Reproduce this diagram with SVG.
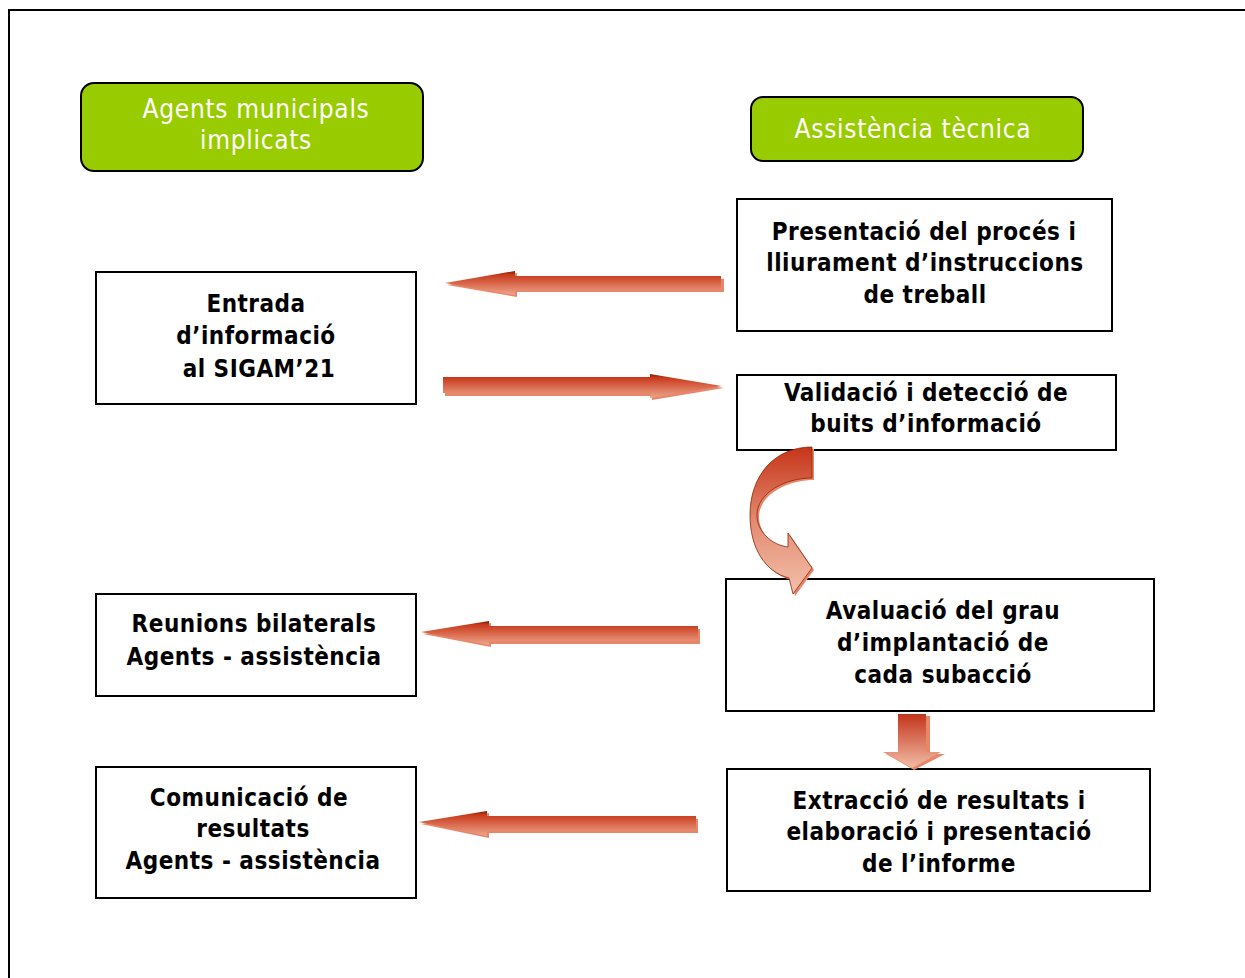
<svg xmlns="http://www.w3.org/2000/svg" width="1245" height="978" viewBox="0 0 1245 978">
<defs>
<linearGradient id="gh" x1="0" y1="0" x2="0" y2="1">
<stop offset="0" stop-color="#7a1c05"/>
<stop offset="0.15" stop-color="#c8391b"/>
<stop offset="1" stop-color="#eea58c"/>
</linearGradient>
<linearGradient id="gv" x1="0" y1="0" x2="0" y2="1">
<stop offset="0" stop-color="#c3341a"/>
<stop offset="1" stop-color="#f2bca6"/>
</linearGradient>
<linearGradient id="gc" x1="0" y1="0" x2="0" y2="1">
<stop offset="0" stop-color="#c63519"/>
<stop offset="0.5" stop-color="#e38a70"/>
<stop offset="1" stop-color="#f3c0ab"/>
</linearGradient>
<style>
.box{fill:#fff;stroke:#000;stroke-width:2}
.hdr{fill:#99cc00;stroke:#000;stroke-width:2}
.t{font-family:"DejaVu Sans Condensed","DejaVu Sans",sans-serif;font-weight:bold;font-size:24px;letter-spacing:0.5px;fill:#000;text-anchor:middle}
.w{font-family:"DejaVu Sans Condensed","DejaVu Sans",sans-serif;font-size:26px;letter-spacing:0.7px;fill:#fff;text-anchor:middle}
.sh{fill:#e8866a}
</style>
</defs>
<rect width="1245" height="978" fill="#fff"/>
<path d="M9 978 V10 H1245" fill="none" stroke="#000" stroke-width="2"/>

<g id="hdr-agents">
<rect class="hdr" x="81" y="83" width="342" height="88" rx="13"/>
<text class="w" x="256" y="118">Agents municipals</text>
<text class="w" x="256" y="149">implicats</text>
</g>
<g id="hdr-assist">
<rect class="hdr" x="751" y="97" width="332" height="64" rx="12"/>
<text class="w" x="913" y="138">Assistència tècnica</text>
</g>

<g id="n-entrada">
<rect class="box" x="96" y="272" width="320" height="132"/>
<text class="t" x="256" y="312">Entrada</text>
<text class="t" x="256" y="344">d’informació</text>
<text class="t" x="259" y="377">al SIGAM’21</text>
</g>
<g id="n-presentacio">
<rect class="box" x="737" y="199" width="375" height="132"/>
<text class="t" x="924" y="240">Presentació del procés i</text>
<text class="t" x="925" y="271">lliurament d’instruccions</text>
<text class="t" x="925" y="303">de treball</text>
</g>
<g id="n-validacio">
<rect class="box" x="737" y="375" width="379" height="75"/>
<text class="t" x="926" y="401">Validació i detecció de</text>
<text class="t" x="926" y="432">buits d’informació</text>
</g>
<g id="n-reunions">
<rect class="box" x="96" y="594" width="320" height="102"/>
<text class="t" x="254" y="632">Reunions bilaterals</text>
<text class="t" x="254" y="665">Agents - assistència</text>
</g>
<g id="n-avaluacio">
<rect class="box" x="726" y="579" width="428" height="132"/>
<text class="t" x="943" y="619">Avaluació del grau</text>
<text class="t" x="943" y="651">d’implantació de</text>
<text class="t" x="943" y="683">cada subacció</text>
</g>
<g id="n-comunicacio">
<rect class="box" x="96" y="767" width="320" height="131"/>
<text class="t" x="249" y="806">Comunicació de</text>
<text class="t" x="253" y="837">resultats</text>
<text class="t" x="253" y="869">Agents - assistència</text>
</g>
<g id="n-extraccio">
<rect class="box" x="727" y="769" width="423" height="122"/>
<text class="t" x="939" y="809">Extracció de resultats i</text>
<text class="t" x="939" y="840">elaboració i presentació</text>
<text class="t" x="939" y="872">de l’informe</text>
</g>

<g id="connectors">
<path class="sh" d="M447 285 L517 273 L517 279 L724 279 L724 292 L517 292 L517 297 Z"/>
<path fill="url(#gh)" d="M445 283 L515 271 L515 276 L721 276 L721 290 L515 290 L515 295 Z"/>
<path class="sh" d="M445 380 L652 380 L652 377 L724 388 L652 400 L652 396 L445 396 Z"/>
<path fill="url(#gh)" d="M443 377 L650 377 L650 374 L722 386 L650 398 L650 393 L443 393 Z"/>
<path class="sh" d="M423 634 L491 623 L491 629 L700 629 L700 644 L491 644 L491 647 Z"/>
<path fill="url(#gh)" d="M421 632 L489 621 L489 626 L698 626 L698 641 L489 641 L489 645 Z"/>
<path class="sh" d="M421 824 L489 813 L489 819 L698 819 L698 833 L489 833 L489 838 Z"/>
<path fill="url(#gh)" d="M419 822 L487 811 L487 816 L696 816 L696 831 L487 831 L487 836 Z"/>
<path class="sh" d="M901 716 L930 716 L930 754 L945 754 L914 770 L886 754 L901 754 Z"/>
<path fill="url(#gv)" d="M898 714 L926 714 L926 752 L941 752 L912 768 L883 752 L898 752 Z"/>
<path class="sh" d="M814 449 L814 480 C787 480 759 495 759 517 C759 534 774 547 790 549 L790 535 L814 570 L795 596 L791 580 C767 574 752 550 752 517 C752 477 777 449 814 449 Z"/>
<path fill="url(#gc)" stroke="#8a2408" stroke-width="0.8" d="M812 447 L812 478 C785 478 757 493 757 515 C757 532 772 545 788 547 L788 533 L812 568 L793 594 L789 578 C765 572 750 548 750 515 C750 475 775 447 812 447 Z"/>
</g>
</svg>
